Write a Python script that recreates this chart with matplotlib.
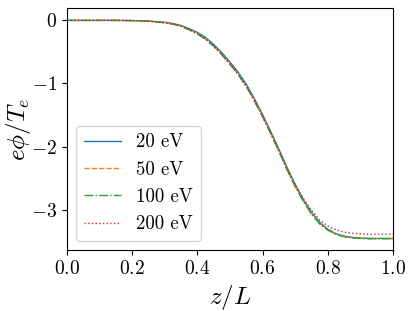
import matplotlib
matplotlib.use("Agg")
import matplotlib.pyplot as plt

# ===== data (z/L and e*phi/T_e)
z = [0.0, 0.025, 0.05, 0.075, 0.1, 0.125, 0.15, 0.175, 0.2, 0.225,
     0.25, 0.275, 0.3, 0.325, 0.35, 0.375, 0.4, 0.425, 0.45, 0.475,
     0.5, 0.525, 0.55, 0.575, 0.6, 0.625, 0.65, 0.675, 0.7, 0.725,
     0.75, 0.775, 0.8, 0.825, 0.85, 0.875, 0.9, 0.925, 0.95, 0.975, 1.0]

phi_20 = [0.0, 0.0, 0.0, 0.0, 0.0, 0.0, 0.0, -0.001, -0.003, -0.006,
          -0.01, -0.02, -0.03, -0.05, -0.08, -0.13, -0.19, -0.27, -0.38, -0.51,
          -0.66, -0.82, -1.01, -1.24, -1.49, -1.76, -2.04, -2.33, -2.60, -2.84,
          -3.04, -3.20, -3.31, -3.38, -3.42, -3.44, -3.45, -3.455, -3.455, -3.455, -3.455]
phi_50 = [0.0, 0.0, 0.0, 0.0, 0.0, 0.0, 0.0, -0.002, -0.004, -0.008,
          -0.013, -0.024, -0.036, -0.058, -0.09, -0.145, -0.21, -0.295, -0.405, -0.54,
          -0.69, -0.85, -1.04, -1.27, -1.52, -1.79, -2.07, -2.36, -2.63, -2.86,
          -3.06, -3.22, -3.32, -3.39, -3.43, -3.445, -3.455, -3.46, -3.46, -3.46, -3.46]
phi_100 = [0.0, 0.0, 0.0, 0.0, 0.0, 0.0, 0.0, -0.002, -0.004, -0.008,
           -0.014, -0.025, -0.038, -0.06, -0.095, -0.15, -0.215, -0.30, -0.41, -0.545,
           -0.695, -0.855, -1.045, -1.275, -1.525, -1.795, -2.075, -2.365, -2.635, -2.87,
           -3.07, -3.225, -3.325, -3.39, -3.43, -3.445, -3.455, -3.46, -3.46, -3.46, -3.46]
phi_200 = [0.0, 0.0, 0.0, 0.0, 0.0, 0.0, 0.0, -0.002, -0.004, -0.008,
           -0.013, -0.024, -0.036, -0.058, -0.09, -0.145, -0.21, -0.295, -0.405, -0.54,
           -0.69, -0.85, -1.04, -1.27, -1.52, -1.79, -2.06, -2.34, -2.60, -2.82,
           -3.01, -3.16, -3.26, -3.32, -3.355, -3.375, -3.385, -3.39, -3.39, -3.39, -3.39]

labels = ["20 eV", "50 eV", "100 eV", "200 eV"]
styles = ["-", "--", "-.", ":"]


def main():
    """Draw the potential profiles"""
    plt.rcParams["font.family"] = "serif"
    plt.rcParams["font.serif"] = ["cmr10"]
    plt.rcParams["mathtext.fontset"] = "cm"
    plt.rcParams["axes.formatter.use_mathtext"] = True

    fig = plt.figure(figsize=(4.15, 3.11), dpi=100)
    ax = fig.add_axes([0.161, 0.196, 0.786, 0.777])

    for phi, lab, ls in zip([phi_20, phi_50, phi_100, phi_200], labels, styles):
        ax.plot(z, phi, ls, lw=1.0, label=lab)

    ax.set_xlim(0, 1)
    ax.set_ylim(-3.64, 0.19)
    ax.set_xticks([0.0, 0.2, 0.4, 0.6, 0.8, 1.0])
    ax.set_yticks([0, -1, -2, -3])
    ax.tick_params(labelsize=14)
    ax.set_xlabel(r"$z/L$", fontsize=18)
    ax.set_ylabel(r"$e\phi/T_e$", fontsize=18)
    ax.yaxis.set_label_coords(-0.105, 0.5)
    ax.legend(loc="lower left", fontsize=13.5)

    fig.savefig("out.png", dpi=100)


if __name__ == "__main__":
    main()
